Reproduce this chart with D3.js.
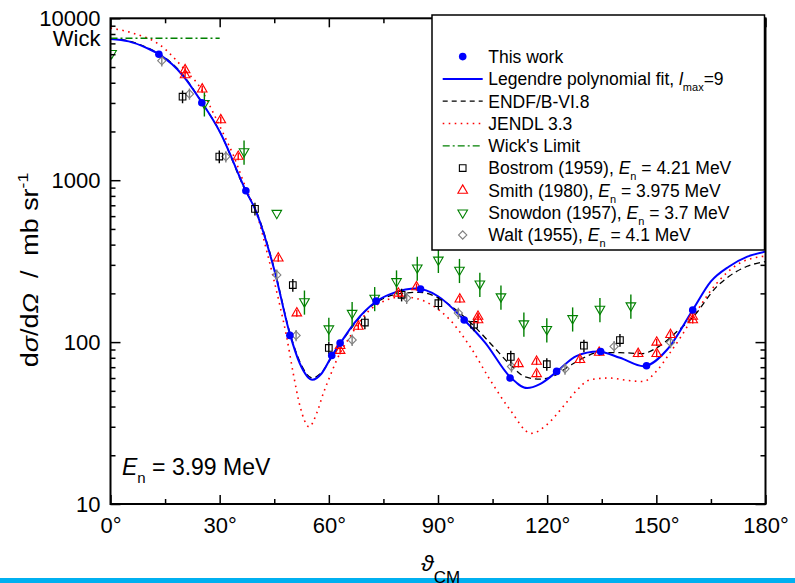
<!DOCTYPE html>
<html>
<head>
<meta charset="utf-8">
<script src="https://cdn.jsdelivr.net/npm/d3@7"></script>
<style>
  body { margin: 0; background: #fff; }
  svg { display: block; font-family: "Liberation Sans", Arial, sans-serif; }
</style>
</head>
<body>
<svg id="chart" width="795" height="583"></svg>
<script>
// values (angle in degrees CM, cross section in mb/sr)
const thisWorkAngles = [13.3, 25.1, 37.2, 49.3, 60.8, 63.1, 73.0, 85.2, 97.2, 109.8, 122.6, 134.7, 147.3, 160.0];
const thisWorkValues = [6000, 3010, 860, 110, 82.7, 98.6, 179, 213, 137, 60, 65.9, 87.5, 71.4, 158];

const fitAngles = [0, 5, 10, 13.3, 20, 25, 30, 37.2, 40, 45, 49.3, 52, 55.5, 58, 60.8, 63.1, 67, 73, 78, 84, 90, 97.2, 103, 109.8, 114.5, 118, 122.6, 128, 134, 140, 146.5, 153, 160, 165, 170, 175, 180];
const fitValues = [7450, 7200, 6550, 6000, 4400, 3050, 2000, 860, 640, 280, 112, 74, 58.5, 64, 82, 98, 131, 178, 202, 214, 192, 137, 99, 61, 52, 55, 65.5, 82, 87.5, 80, 71, 90, 158, 237, 293, 337, 362];

const endfAngles = [0, 5, 10, 13.3, 20, 25, 30, 37, 40, 45, 49.3, 52, 55.5, 58, 61, 65, 70, 75, 80, 85, 90, 95, 100, 105, 110, 114, 118, 122, 126, 130, 134, 140, 146, 151, 156, 160, 166.6, 170, 174.8, 180];
const endfValues = [7500, 7250, 6600, 6050, 4450, 3050, 2000, 870, 650, 285, 114, 76, 60, 65, 82, 112, 155, 186, 200, 203, 188, 158, 125, 95, 72, 61, 59, 62, 71, 80, 86, 86, 85, 95, 118, 142, 220, 255, 293, 314];

const jendlAngles = [0, 6.3, 13.6, 20.9, 24.6, 28.3, 31.2, 33.8, 37.4, 40, 43, 46.6, 48.4, 50.2, 52.1, 54.6, 56.7, 58.5, 60.3, 62.2, 65.8, 70.4, 75.9, 80, 83, 87.8, 93.3, 98.8, 104.3, 109.8, 115.6, 120, 124.4, 128, 131.8, 137, 142, 146.4, 150, 153.7, 157, 160.2, 166.6, 173, 180];
const jendlValues = [8700, 8080, 6840, 4680, 3750, 2590, 1900, 1420, 870, 640, 360, 166, 108, 64.4, 40, 30, 36.5, 48.4, 61.4, 77.8, 108, 151, 182, 190, 188, 172, 137, 94, 58.5, 38.2, 27.3, 31, 40, 50, 58.5, 60, 58, 57.1, 66, 85.5, 110, 144, 231, 308, 340];

const wickAngles = [0, 30];
const wickLimit = 7530;

const bostromAngles = [19.8, 29.9, 39.7, 50.1, 60.0, 69.9, 80.0, 90.1, 99.9, 110.0, 119.9, 130.1, 140.0];
const bostromValues = [3280, 1400, 665, 225, 92, 132, 196, 174, 128, 81, 73, 95, 103];
const bostromErr = 0.09;

const smithAngles = [20.5, 20.5, 25.2, 30.3, 35.1, 46.1, 51.2, 63.1, 63.1, 68.1, 79.1, 84.1, 96.0, 101.0, 101.0, 112.1, 117.1, 117.1, 129.0, 134.3, 145.0, 150.1, 150.1, 153.9, 160.0, 160.0];
const smithValues = [4800, 4470, 3650, 2356, 1400, 330, 151, 94.9, 88.6, 125, 200, 219, 184, 144, 137, 73.4, 75.9, 63.7, 77.8, 86.3, 84.8, 99.6, 84.8, 111, 144, 137];
const smithErr = 0.05;

const snowdonAngles = [0.3, 25.8, 36.7, 45.7, 53.3, 60.0, 66.4, 72.6, 78.6, 84.3, 90.1, 95.9, 101.5, 107.3, 113.6, 119.9, 127.0, 134.5, 143.0];
const snowdonValues = [6080, 2985, 1503, 626, 178, 121, 151, 187, 237, 288, 322, 279, 229, 191, 130, 120, 140, 160, 168];
const snowdonErr = [0, 0.17, 0.17, 0, 0.17, 0.17, 0.17, 0.17, 0.17, 0.17, 0.17, 0.17, 0.17, 0.17, 0.17, 0.17, 0.17, 0.17, 0.17];

const waltAngles = [14.1, 21.7, 31.7, 45.7, 51.0, 66.4, 81.4, 95.6, 110.2, 124.9, 138.4, 153.9];
const waltValues = [5470, 3410, 1400, 260, 110, 103, 187, 151, 70.6, 68.4, 94, 99.6];
const waltErr = 0.08;

const xTicks = [0, 30, 60, 90, 120, 150, 180];
const yTickLabels = [10, 100, 1000, 10000];

const svg = d3.select('#chart');
const x = d3.scaleLinear().domain([0, 180]).range([110.5, 765.5]);
const y = d3.scaleLog().domain([10, 10000]).range([504, 18.3]);

svg.append('rect').attr('x', 0).attr('y', 578).attr('width', 795).attr('height', 5).attr('fill', '#00b0f0');

svg.append('defs').append('clipPath').attr('id', 'plot')
  .append('rect').attr('x', 110.5).attr('y', 18.3).attr('width', 655).attr('height', 485.7);

const plot = svg.append('g').attr('clip-path', 'url(#plot)');
const line = d3.line().x((d) => x(d[0])).y((d) => y(d[1])).curve(d3.curveMonotoneX);

plot.append('path').datum(d3.zip(jendlAngles, jendlValues)).attr('d', line)
  .attr('fill', 'none').attr('stroke', '#ff0000').attr('stroke-width', 1.6).attr('stroke-dasharray', '1.6,4.4');
plot.append('path').datum(d3.zip(endfAngles, endfValues)).attr('d', line)
  .attr('fill', 'none').attr('stroke', '#000').attr('stroke-width', 1.3).attr('stroke-dasharray', '6,4');
plot.append('path').datum(d3.zip(fitAngles, fitValues)).attr('d', line)
  .attr('fill', 'none').attr('stroke', '#0000ff').attr('stroke-width', 2);
plot.append('path').datum(wickAngles.map((a) => [a, wickLimit])).attr('d', d3.line().x((d) => x(d[0])).y((d) => y(d[1])))
  .attr('fill', 'none').attr('stroke', '#008000').attr('stroke-width', 1.3).attr('stroke-dasharray', '7,3,2,3');

const sym = {
  square: d3.symbol(d3.symbolSquare, 44)(),
  triangle: d3.symbol(d3.symbolTriangle, 40)(),
  diamond: d3.symbol(d3.symbolSquare, 34)(),
};

function drawSet(angles, values, err, color, shape, rotate) {
  const g = plot.append('g');
  const pts = angles.map((a, i) => ({ a, v: values[i], e: Array.isArray(err) ? err[i] : err }));
  g.selectAll('line').data(pts.filter((d) => d.e > 0)).join('line')
    .attr('x1', (d) => x(d.a)).attr('x2', (d) => x(d.a))
    .attr('y1', (d) => y(d.v * (1 - d.e))).attr('y2', (d) => y(d.v * (1 + d.e)))
    .attr('stroke', color).attr('stroke-width', 1.4);
  g.selectAll('path').data(pts).join('path')
    .attr('d', sym[shape])
    .attr('transform', (d) => `translate(${x(d.a)},${y(d.v)}) rotate(${rotate})`)
    .attr('fill', 'none').attr('stroke', color).attr('stroke-width', 1.1);
}

drawSet(waltAngles, waltValues, waltErr, '#808080', 'diamond', 45);
drawSet(bostromAngles, bostromValues, bostromErr, '#000', 'square', 0);
drawSet(snowdonAngles, snowdonValues, snowdonErr, '#008000', 'triangle', 180);
drawSet(smithAngles, smithValues, smithErr, '#ff0000', 'triangle', 0);

plot.append('g').selectAll('circle').data(d3.zip(thisWorkAngles, thisWorkValues)).join('circle')
  .attr('cx', (d) => x(d[0])).attr('cy', (d) => y(d[1])).attr('r', 3.8).attr('fill', '#0000ff');

// axes, ticks pointing inward
const fs = 22;
function styleAxis(g) {
  g.select('.domain').remove();
  g.selectAll('.tick line').attr('stroke', '#000').attr('stroke-width', 1.5);
  g.selectAll('.tick text').attr('font-size', fs).attr('fill', '#000').attr('font-family', null);
}
const minorX = d3.range(15, 180, 30);
svg.append('g').attr('transform', 'translate(0,504)')
  .call(d3.axisBottom(x).tickValues(xTicks).tickSizeInner(-9).tickSizeOuter(0).tickPadding(13).tickFormat((d) => d + '°'))
  .call(styleAxis);
svg.append('g').attr('transform', 'translate(0,504)')
  .call(d3.axisBottom(x).tickValues(minorX).tickSizeInner(-5).tickSizeOuter(0).tickFormat(''))
  .call(styleAxis);
svg.append('g').attr('transform', 'translate(0,18.3)')
  .call(d3.axisTop(x).tickValues(xTicks).tickSizeInner(-9).tickSizeOuter(0).tickFormat(''))
  .call(styleAxis);
svg.append('g').attr('transform', 'translate(0,18.3)')
  .call(d3.axisTop(x).tickValues(minorX).tickSizeInner(-5).tickSizeOuter(0).tickFormat(''))
  .call(styleAxis);

const minorY = y.ticks().filter((v) => !yTickLabels.includes(v));
svg.append('g').attr('transform', 'translate(110.5,0)')
  .call(d3.axisLeft(y).tickValues(yTickLabels).tickSizeInner(-10).tickSizeOuter(0).tickPadding(10).tickFormat(d3.format('d')))
  .call(styleAxis);
svg.append('g').attr('transform', 'translate(110.5,0)')
  .call(d3.axisLeft(y).tickValues(minorY).tickSizeInner(-5).tickSizeOuter(0).tickFormat(''))
  .call(styleAxis);
svg.append('g').attr('transform', 'translate(765.5,0)')
  .call(d3.axisRight(y).tickValues(yTickLabels).tickSizeInner(-10).tickSizeOuter(0).tickFormat(''))
  .call(styleAxis);
svg.append('g').attr('transform', 'translate(765.5,0)')
  .call(d3.axisRight(y).tickValues(minorY).tickSizeInner(-5).tickSizeOuter(0).tickFormat(''))
  .call(styleAxis);

svg.append('rect').attr('x', 110.5).attr('y', 18.3).attr('width', 655).attr('height', 485.7)
  .attr('fill', 'none').attr('stroke', '#000').attr('stroke-width', 2);

svg.append('text').attr('x', 100.5).attr('y', 46).attr('text-anchor', 'end').attr('font-size', fs).text('Wick');

// En annotation
const en = svg.append('text').attr('x', 122).attr('y', 475).attr('font-size', 23);
en.append('tspan').attr('font-style', 'italic').text('E');
en.append('tspan').attr('font-size', 15).attr('dy', 8).text('n');
en.append('tspan').attr('dy', -8).text(' = 3.99 MeV');

// y label (stretched along its length like the reference)
const yl = svg.append('text').attr('transform', 'translate(38,270) rotate(-90) scale(1.17,1)')
  .attr('text-anchor', 'middle').attr('font-size', 23).style('white-space', 'pre');
yl.append('tspan').text('d');
yl.append('tspan').attr('font-style', 'italic').text('σ');
yl.append('tspan').text('/d');
yl.append('tspan').attr('font-style', 'italic').text('Ω');
yl.append('tspan').text('  /  mb sr');
yl.append('tspan').attr('font-size', 15).attr('dy', -10).text('-1');

// x label
const xl = svg.append('text').attr('x', 421).attr('y', 571).attr('font-size', 23);
xl.append('tspan').attr('font-style', 'italic').text('ϑ');
xl.append('tspan').attr('font-size', 17).attr('dy', 12).text('CM');

// legend
const lg = svg.append('g');
lg.append('rect').attr('x', 432).attr('y', 15).attr('width', 332.5).attr('height', 235)
  .attr('fill', '#fff').attr('stroke', '#000').attr('stroke-width', 1.5);
const rowY = (i) => 56.6 + i * 22.3;
const lfs = 17.5;
const items = [
  { kind: 'dot', color: '#0000ff', text: [['This work']] },
  { kind: 'line', color: '#0000ff', dash: null, w: 2, text: [['Legendre polynomial fit, '], ['l', 'i'], ['max', 's'], ['=9', 'u']] },
  { kind: 'line', color: '#000', dash: '5,4', w: 1.3, text: [['ENDF/B-VI.8']] },
  { kind: 'line', color: '#ff0000', dash: '1.6,4.4', w: 1.6, text: [['JENDL 3.3']] },
  { kind: 'line', color: '#008000', dash: '7,3,2,3', w: 1.3, text: [["Wick's Limit"]] },
  { kind: 'square', color: '#000', rot: 0, text: [['Bostrom (1959), '], ['E', 'i'], ['n', 's'], [' = 4.21 MeV', 'u']] },
  { kind: 'triangle', color: '#ff0000', rot: 0, text: [['Smith (1980), '], ['E', 'i'], ['n', 's'], [' = 3.975 MeV', 'u']] },
  { kind: 'triangle', color: '#008000', rot: 180, text: [['Snowdon (1957), '], ['E', 'i'], ['n', 's'], [' = 3.7 MeV', 'u']] },
  { kind: 'diamond', color: '#808080', rot: 45, text: [['Walt (1955), '], ['E', 'i'], ['n', 's'], [' = 4.1 MeV', 'u']] },
];
items.forEach((it, i) => {
  const cy = rowY(i);
  if (it.kind === 'dot') {
    lg.append('circle').attr('cx', 462.7).attr('cy', cy).attr('r', 3.8).attr('fill', it.color);
  } else if (it.kind === 'line') {
    lg.append('line').attr('x1', 442.7).attr('x2', 482.7).attr('y1', cy).attr('y2', cy)
      .attr('stroke', it.color).attr('stroke-width', it.w).attr('stroke-dasharray', it.dash);
  } else {
    lg.append('path').attr('d', sym[it.kind]).attr('transform', `translate(462.7,${cy}) rotate(${it.rot})`)
      .attr('fill', 'none').attr('stroke', it.color).attr('stroke-width', 1.1);
  }
  const t = lg.append('text').attr('x', 488.3).attr('y', cy + 6.3).attr('font-size', lfs);
  it.text.forEach(([s, m]) => {
    const sp = t.append('tspan').text(s);
    if (m === 'i') sp.attr('font-style', 'italic');
    if (m === 's') sp.attr('font-size', 11).attr('dy', 6);
    if (m === 'u') sp.attr('dy', -6);
  });
});
</script>
</body>
</html>
